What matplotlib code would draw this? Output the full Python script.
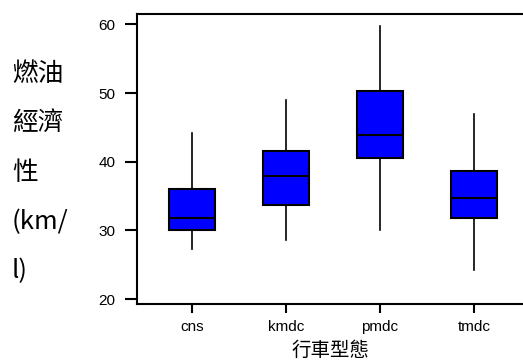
import matplotlib
matplotlib.use('Agg')
import matplotlib.pyplot as plt

# box statistics
categories = ['cns', 'kmdc', 'pmdc', 'tmdc']
whislo = [27.3, 28.6, 30.0, 24.2]
q1 = [30.0, 33.7, 40.5, 31.8]
med = [31.8, 37.9, 43.9, 34.7]
q3 = [36.0, 41.6, 50.3, 38.7]
whishi = [44.2, 49.0, 59.8, 46.9]
yticks = [20, 30, 40, 50, 60]

stats = []
for i, name in enumerate(categories):
    stats.append({'label': name, 'whislo': whislo[i], 'q1': q1[i], 'med': med[i],
                  'q3': q3[i], 'whishi': whishi[i], 'fliers': []})

fig = plt.figure(figsize=(5.23, 3.63), dpi=100)
ax = fig.add_axes([137 / 523, 1 - 304 / 363, 1 - 137 / 523, (304 - 14) / 363])

ax.bxp(stats, positions=range(1, len(categories) + 1), widths=0.49,
       patch_artist=True, showcaps=False,
       boxprops=dict(facecolor='#0000ff', edgecolor='black', linewidth=1.5),
       medianprops=dict(color='black', linewidth=1.5),
       whiskerprops=dict(color='black', linewidth=1.2))

ax.set_xlim(0.415, 4.52)
ax.set_ylim(19.3, 61.5)
ax.set_yticks(yticks)
ax.spines['right'].set_visible(False)
for s in ['left', 'top', 'bottom']:
    ax.spines[s].set_linewidth(1.5)

ax.tick_params(axis='both', labelsize=11, labelfontfamily='Liberation Sans')
ax.tick_params(axis='y', length=8.5, width=1.5, pad=7)
ax.tick_params(axis='x', length=6.5, width=1.5, pad=5)

ax.set_xlabel('行車型態', fontsize=14, family=['Noto Sans CJK TC', 'DejaVu Sans'], labelpad=4)
fig.text(12 / 523, 1 - 172.5 / 363, '燃油\n經濟\n性\n(km/\nl)', fontsize=18.5,
         family=['Noto Sans CJK TC', 'DejaVu Sans'], ha='left', va='center',
         linespacing=2.17)

fig.savefig('out.png', dpi=100)
